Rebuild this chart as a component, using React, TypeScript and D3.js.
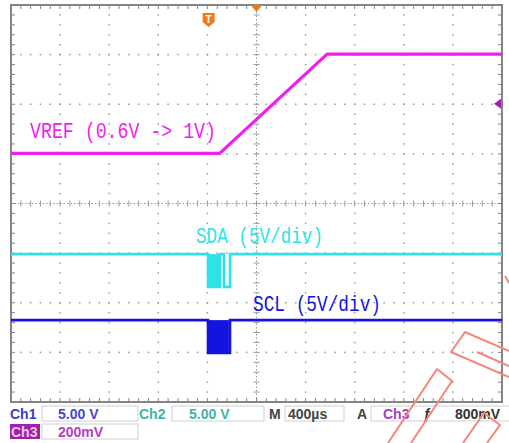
import React from 'react'
import * as d3 from 'd3'

const W = 509
const H = 443

// screen: 10 x 8 divisions, 5 minor ticks per division
const X_DIVS = 10
const Y_DIVS = 8
const MINOR = 5
const TIME_PER_DIV = 400 // µs  (M 400µs)

// channel settings: volts/div and ground position (div from centre)
const CH3_VDIV = 0.2
const CH3_GND = -1.99
const CH2_VDIV = 5
const CH2_GND = -1.68
const CH1_VDIV = 5
const CH1_GND = -3.01

// Ch3 : VREF ramp 0.6V -> 1V
const vrefTime = [-2000, -300, 575, 2000]
const vrefVolt = [0.6, 0.6, 1.0, 1.0]

// Ch2 : SDA
const sdaTime = [-2000, -395, -395, -297, -297, -265, -265, -216, -216, 2000]
const sdaVolt = [3.3, 3.3, 0, 0, 3.3, 3.3, 0, 0, 3.3, 3.3]
const sdaBursts = [[-395, -297]]

// Ch1 : SCL
const sclTime = [-2000, -395, -395, -216, -216, 2000]
const sclVolt = [3.3, 3.3, 0, 0, 3.3, 3.3]
const sclBursts = [[-395, -225], [-222, -216]]

const triggerTime = -390
const triggerLevel = 0.8 // V on Ch3

const COL_VREF = '#f01ef0'
const COL_SDA = '#2ee3e6'
const COL_SCL = '#1414e0'
const GRID = '#9a9a9a'

const x = d3.scaleLinear().domain([-X_DIVS / 2, X_DIVS / 2]).range([11, 502])
const y = d3.scaleLinear().domain([-Y_DIVS / 2, Y_DIVS / 2]).range([402, 5])

const tx = (t: number) => x(t / TIME_PER_DIV)
const vy = (v: number, vdiv: number, gnd: number) => y(gnd + v / vdiv)

function tracePath(ts: number[], vs: number[], vdiv: number, gnd: number) {
  const line = d3.line<number>()
    .x(i => tx(ts[i]))
    .y(i => vy(vs[i], vdiv, gnd))
  return line(d3.range(ts.length)) || ''
}

const App: React.FC = () => {
  const minorX = d3.range(0, X_DIVS * MINOR + 1).map(i => -X_DIVS / 2 + i / MINOR)
  const minorY = d3.range(0, Y_DIVS * MINOR + 1).map(i => -Y_DIVS / 2 + i / MINOR)
  const majorX = d3.range(-X_DIVS / 2 + 1, X_DIVS / 2).filter(d => d !== 0)
  const majorY = d3.range(-Y_DIVS / 2 + 1, Y_DIVS / 2).filter(d => d !== 0)

  const mono = "'Liberation Mono', 'DejaVu Sans Mono', monospace"
  const sans = "'Liberation Sans', Arial, sans-serif"

  return (
    <svg width={W} height={H} style={{ position: 'absolute', left: 0, top: 0, background: '#fff' }}>
      <rect x={0} y={0} width={W} height={H} fill="#fff" />

      {/* dotted grid */}
      <g fill={GRID}>
        {majorX.map(d => minorY.map((m, j) => (
          <rect key={`vx${d}-${j}`} x={x(d) - 0.75} y={y(m) - 0.75} width={1.5} height={1.5} />
        )))}
        {majorY.map(d => minorX.map((m, j) => (
          <rect key={`hy${d}-${j}`} x={x(m) - 0.75} y={y(d) - 0.75} width={1.5} height={1.5} />
        )))}
      </g>

      {/* centre cross with ticks */}
      <g stroke={GRID} strokeWidth={1}>
        {minorX.map((m, i) => (
          <line key={`cx${i}`} x1={x(m)} x2={x(m)} y1={y(0) - 3} y2={y(0) + 3} />
        ))}
        {minorY.map((m, i) => (
          <line key={`cy${i}`} x1={x(0) - 3} x2={x(0) + 3} y1={y(m)} y2={y(m)} />
        ))}
        <line x1={x(-5)} x2={x(5)} y1={y(0)} y2={y(0)} strokeDasharray="1.5 2" />
        <line x1={x(0)} x2={x(0)} y1={y(-4)} y2={y(4)} strokeDasharray="1.5 2" />
      </g>

      {/* frame with inward ticks */}
      <g stroke="#858585" strokeWidth={1}>
        {minorX.map((m, i) => (
          <g key={`fx${i}`}>
            <line x1={x(m)} x2={x(m)} y1={y(4)} y2={y(4) + 4} />
            <line x1={x(m)} x2={x(m)} y1={y(-4)} y2={y(-4) - 4} />
          </g>
        ))}
        {minorY.map((m, i) => (
          <g key={`fy${i}`}>
            <line x1={x(-5)} x2={x(-5) + 4} y1={y(m)} y2={y(m)} />
            <line x1={x(5)} x2={x(5) - 4} y1={y(m)} y2={y(m)} />
          </g>
        ))}
        <rect x={x(-5)} y={y(4)} width={x(5) - x(-5)} height={y(-4) - y(4)} fill="none" strokeWidth={2} />
      </g>

      {/* traces */}
      <path d={tracePath(vrefTime, vrefVolt, CH3_VDIV, CH3_GND)} fill="none" stroke={COL_VREF} strokeWidth={3.2} strokeLinejoin="round" />
      {sdaBursts.map((b, i) => (
        <rect key={`sb${i}`} x={tx(b[0])} width={tx(b[1]) - tx(b[0])}
          y={vy(3.3, CH2_VDIV, CH2_GND)} height={vy(0, CH2_VDIV, CH2_GND) - vy(3.3, CH2_VDIV, CH2_GND)} fill={COL_SDA} />
      ))}
      <path d={tracePath(sdaTime, sdaVolt, CH2_VDIV, CH2_GND)} fill="none" stroke={COL_SDA} strokeWidth={2.6} />
      {sclBursts.map((b, i) => (
        <rect key={`cb${i}`} x={tx(b[0])} width={tx(b[1]) - tx(b[0])}
          y={vy(3.3, CH1_VDIV, CH1_GND)} height={vy(0, CH1_VDIV, CH1_GND) - vy(3.3, CH1_VDIV, CH1_GND)} fill={COL_SCL} />
      ))}
      <path d={tracePath(sclTime, sclVolt, CH1_VDIV, CH1_GND)} fill="none" stroke={COL_SCL} strokeWidth={2.6} />

      {/* trace labels */}
      <text x={30} y={138} fill={COL_VREF} fontFamily={mono} fontSize={22} textLength={186} lengthAdjust="spacingAndGlyphs">VREF (0.6V -&gt; 1V)</text>
      <text x={196} y={243} fill={COL_SDA} fontFamily={mono} fontSize={22} textLength={127} lengthAdjust="spacingAndGlyphs">SDA (5V/div)</text>
      <text x={253} y={311} fill={COL_SCL} fontFamily={mono} fontSize={22} textLength={128} lengthAdjust="spacingAndGlyphs">SCL (5V/div)</text>

      {/* trigger markers */}
      <g>
        <path d={`M${tx(triggerTime) - 6},13 h12 v9 l-6,5 l-6,-5 Z`} fill="#f07a1a" />
        <text x={tx(triggerTime)} y={23} textAnchor="middle" fill="#fff" fontFamily={sans} fontWeight="bold" fontSize={10}>T</text>
        <path d={`M${x(0) - 6},5 h12 l-6,7 Z`} fill="#f07a1a" />
        <path d={`M${x(5) - 8},${vy(triggerLevel, CH3_VDIV, CH3_GND)} l7,-5 v10 Z`} fill="#a020b0" />
      </g>

      {/* status bar */}
      <g fontFamily={sans} fontWeight="bold" fontSize={14}>
        <text x={10} y={419} fill="#3c3cc4">Ch1</text>
        <rect x={42} y={406} width={96} height={15} fill="#fff" stroke="#cfcfcf" />
        <text x={58} y={419} fill="#4848cc">5.00 V</text>
        <text x={139} y={419} fill="#3cb4aa">Ch2</text>
        <rect x={172} y={406} width={92} height={15} fill="#fff" stroke="#cfcfcf" />
        <text x={189} y={419} fill="#3cb4aa">5.00 V</text>
        <text x={269} y={419} fill="#444">M</text>
        <rect x={285} y={406} width={59} height={15} fill="#fff" stroke="#cfcfcf" />
        <text x={288} y={419} fill="#444">400µs</text>
        <text x={357} y={419} fill="#444">A</text>
        <rect x={371} y={406} width={140} height={15} fill="#fff" stroke="#cfcfcf" />
        <text x={383} y={419} fill="#a040c4">Ch3</text>
        <text x={423} y={419} fill="#333" fontStyle="italic">ƒ</text>
        <text x={455} y={419} fill="#333">800mV</text>
        <rect x={10} y={424} width={30} height={15} fill="#a020a8" />
        <text x={11} y={437} fill="#f4c8f4">Ch3</text>
        <rect x={42} y={424} width={96} height={15} fill="#fff" stroke="#cfcfcf" />
        <text x={58} y={437} fill="#b040c0">200mV</text>
      </g>

      {/* watermark outlines */}
      <g fill="none" stroke="#f4877c" strokeWidth={2} strokeLinejoin="round">
        <path d="M509,351 L465,332 L451,352 L509,377" />
        <path d="M477,352 L509,366" />
        <path d="M388,443 L437,369 L452,381 L411,443" />
        <path d="M463,443 L484,413 L500,425 L487,443" />
        <path d="M505,276 L509,283" />
      </g>
    </svg>
  )
}

export default App
